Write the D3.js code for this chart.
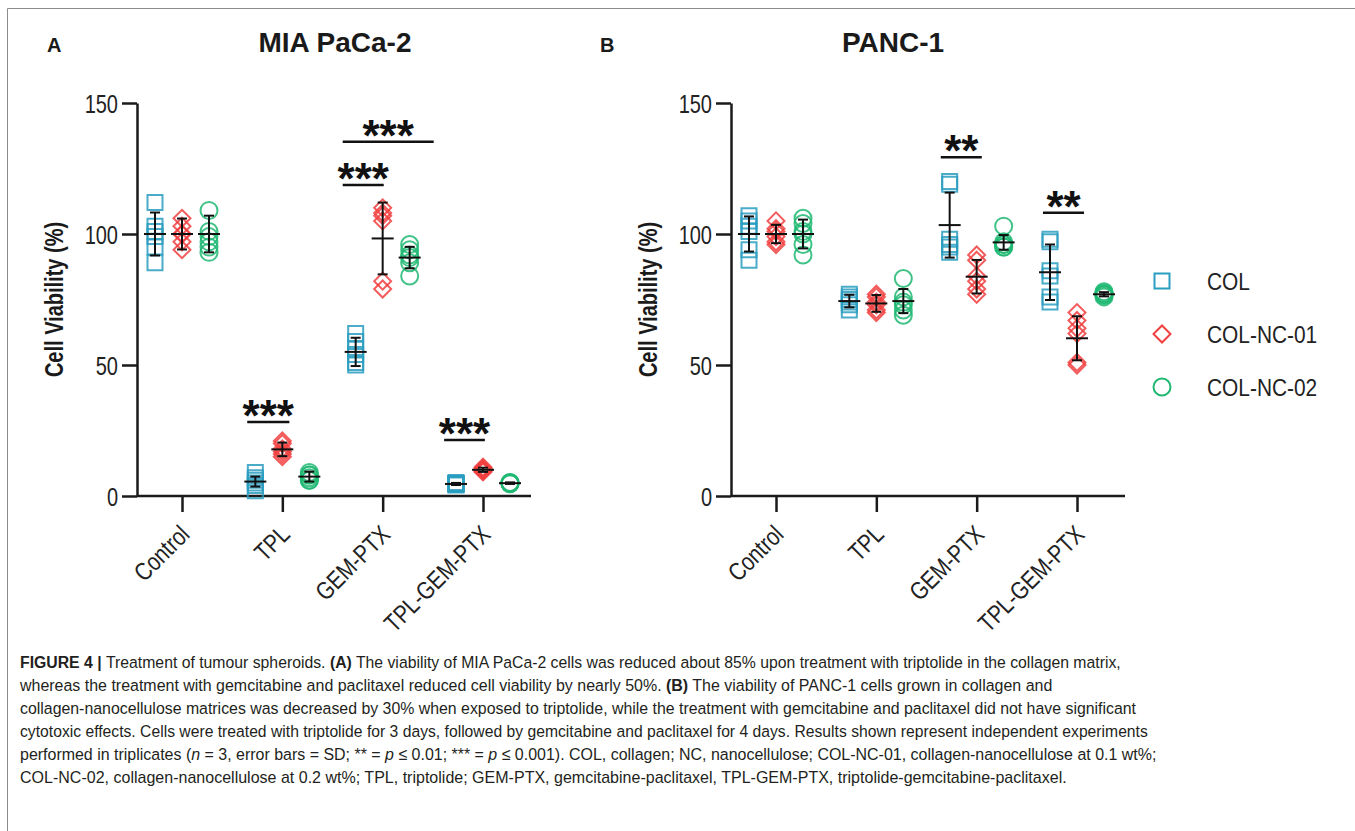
<!DOCTYPE html>
<html>
<head>
<meta charset="utf-8">
<script src="https://cdn.jsdelivr.net/npm/d3@7"></script>
<style>
  body { margin: 0; background: #fff; }
  svg text { font-family: 'Liberation Sans', Arial, sans-serif; fill: #1a1a1a; }
</style>
</head>
<body>
<div id="figure"></div>
<script>
// ---- data ----
const categories = ['Control', 'TPL', 'GEM-PTX', 'TPL-GEM-PTX'];
const matrices = ['COL', 'COL-NC-01', 'COL-NC-02'];
const yTicks = [0, 50, 100, 150];

// MIA PaCa-2, points per [category][matrix]
const miaPoints = [
  [[112, 103, 101, 99, 95, 89], [106, 103, 100, 97, 94, 100], [109, 101, 99, 97, 95, 93]],
  [[9, 7, 6, 5, 4, 2], [21, 20, 18, 17, 15, 16], [9, 8, 8, 6, 6, 7]],
  [[62, 59, 56, 54, 51, 50], [110, 108, 107, 105, 82, 79], [96, 94, 92, 91, 89, 84]],
  [[5.2, 4.8, 4.6, 4.4, 4.9, 4.2], [11, 10.5, 10, 9.5, 9.2, 10], [5.1, 4.9, 4.7, 5.0, 4.8, 5.2]]
];
const miaMeans = [[100, 100, 100], [5.5, 17.8, 7.4], [55, 98.3, 91], [4.6, 10, 4.9]];
const miaSD = [[8.2, 5.9, 7], [1.9, 2.6, 1.9], [5.4, 13.7, 4.1], [0.4, 0.8, 0.3]];
// significance bars: category, from/to matrix index, height, label
const miaSig = [
  {cat: 'TPL', from: -0.3, to: 1.26, y: 28.2, label: '***'},
  {cat: 'GEM-PTX', from: -0.48, to: 1.04, y: 118.7, label: '***'},
  {cat: 'GEM-PTX', from: -0.48, to: 2.89, y: 135.2, label: '***'},
  {cat: 'TPL-GEM-PTX', from: -0.44, to: 1.07, y: 21.4, label: '***'}
];

// PANC-1
const pancPoints = [
  [[107, 105, 103, 101, 94, 90], [105, 102, 101, 99, 97, 96], [106, 104, 101, 100, 96, 92]],
  [[77, 76, 75, 74, 73, 71], [77, 76, 74, 73, 71, 70], [83, 76, 74, 73, 71, 69]],
  [[120, 119, 98, 96, 95, 93], [92, 90, 84, 82, 79, 77], [103, 97, 96, 96, 95, 95]],
  [[98, 97, 86, 84, 76, 74], [70, 67, 64, 62, 51, 50], [78, 77.5, 77, 76.5, 76, 77]]
];
const pancMeans = [[100, 100, 100], [74.4, 73.5, 74.4], [103.4, 83.7, 96.8], [85.4, 60.2, 77]];
const pancSD = [[6.7, 3.5, 5.5], [2.4, 3.2, 4.6], [12.4, 6.4, 2.8], [10.6, 8.4, 0.8]];
const pancSig = [
  {cat: 'GEM-PTX', from: -0.33, to: 1.19, y: 129.3, label: '**'},
  {cat: 'TPL-GEM-PTX', from: -0.26, to: 1.26, y: 108.1, label: '**'}
];

const colors = ['#2a9ec0', '#f1403f', '#20b873'];

const captionLines = [
  [['FIGURE 4 | ', 'b'], ['Treatment of tumour spheroids. '], ['(A)', 'b'], [' The viability of MIA PaCa-2 cells was reduced about 85% upon treatment with triptolide in the collagen matrix,']],
  [['whereas the treatment with gemcitabine and paclitaxel reduced cell viability by nearly 50%. '], ['(B)', 'b'], [' The viability of PANC-1 cells grown in collagen and']],
  [['collagen-nanocellulose matrices was decreased by 30% when exposed to triptolide, while the treatment with gemcitabine and paclitaxel did not have significant']],
  [['cytotoxic effects. Cells were treated with triptolide for 3 days, followed by gemcitabine and paclitaxel for 4 days. Results shown represent independent experiments']],
  [['performed in triplicates ('], ['n', 'i'], [' = 3, error bars = SD; ** = '], ['p', 'i'], [' ≤ 0.01; *** = '], ['p', 'i'], [' ≤ 0.001). COL, collagen; NC, nanocellulose; COL-NC-01, collagen-nanocellulose at 0.1 wt%;']],
  [['COL-NC-02, collagen-nanocellulose at 0.2 wt%; TPL, triptolide; GEM-PTX, gemcitabine-paclitaxel, TPL-GEM-PTX, triptolide-gemcitabine-paclitaxel.']]
];

// no narrow font installed, so squeeze the glyphs instead
function narrow(sel, k) {
  sel.each(function() {
    const w = this.getComputedTextLength();
    d3.select(this).attr('textLength', w * k).attr('lengthAdjust', 'spacingAndGlyphs');
  });
}

class ViabilityPlot {

  constructor(_config, _data) {
    this.config = {
      parent: _config.parent,
      originX: _config.originX,
      originY: _config.originY || 103,
      width: _config.width || 394,
      height: _config.height || 393,
      title: _config.title,
      titleX: _config.titleX,
      panel: _config.panel,
      panelX: _config.panelX
    };
    this.data = _data;
    this.initVis();
  }

  initVis() {
    let vis = this;
    const c = vis.config;

    vis.xScale = d3.scalePoint().domain(categories).range([45, 346]);
    // position of each matrix inside a category
    vis.offset = d3.scaleLinear().domain([0, 2]).range([-27, 27]);
    vis.yScale = d3.scaleLinear().domain([0, 150]).range([c.height, 0]);

    vis.chart = c.parent.append('g')
        .attr('transform', `translate(${c.originX},${c.originY})`);

    // y axis
    vis.yAxis = d3.axisLeft(vis.yScale)
        .tickValues(yTicks)
        .tickSize(15)
        .tickSizeOuter(0)
        .tickPadding(4);
    vis.yAxisG = vis.chart.append('g').call(vis.yAxis);
    vis.yAxisG.selectAll('path, line').attr('stroke', '#1a1a1a').attr('stroke-width', 2.5);
    vis.yAxisG.selectAll('text')
        .style('font-size', '25px')
        .style('fill', '#222')
        .attr('dy', '0.36em')
        .call(narrow, 0.8);

    // x axis
    vis.xAxis = d3.axisBottom(vis.xScale).tickSize(16).tickFormat('');
    vis.xAxisG = vis.chart.append('g')
        .attr('transform', `translate(0,${c.height})`)
        .call(vis.xAxis)
        .call(g => g.select('.domain').remove());
    vis.xAxisG.selectAll('line').attr('stroke', '#1a1a1a').attr('stroke-width', 2.5);
    vis.xAxisG.append('line')
        .attr('x1', 0).attr('x2', c.width)
        .attr('stroke', '#1a1a1a').attr('stroke-width', 2.5);

    vis.chart.selectAll('.cat-label')
        .data(categories)
        .join('text')
        .attr('class', 'cat-label')
        .attr('text-anchor', 'end')
        .attr('transform', d => `translate(${vis.xScale(d) + 9},${c.height + 40}) rotate(-45)`)
        .style('font-size', '25px')
        .style('fill', '#222')
        .text(d => d)
        .call(narrow, 0.82);

    // titles
    vis.chart.append('text')
        .attr('text-anchor', 'middle')
        .attr('transform', `translate(-74,${c.height / 2}) rotate(-90)`)
        .style('font-size', '25px')
        .style('font-weight', 'bold')
        .text('Cell Viability (%)')
        .call(narrow, 0.8);

    vis.chart.append('text')
        .attr('x', c.titleX)
        .attr('y', -51)
        .attr('text-anchor', 'middle')
        .style('font-size', '28px')
        .style('font-weight', 'bold')
        .text(c.title);

    vis.chart.append('text')
        .attr('x', c.panelX)
        .attr('y', -51)
        .style('font-size', '20px')
        .style('font-weight', 'bold')
        .text(c.panel);

    vis.updateVis();
  }

  updateVis() {
    let vis = this;
    const d = vis.data;

    vis.points = [];
    vis.summary = [];
    categories.forEach((cat, i) => {
      matrices.forEach((m, j) => {
        d.points[i][j].forEach(v => vis.points.push({cat: cat, j: j, v: v}));
        vis.summary.push({cat: cat, j: j, mean: d.means[i][j], sd: d.sd[i][j]});
      });
    });

    vis.xPos = (cat, j) => vis.xScale(cat) + vis.offset(j);

    vis.renderVis();
  }

  renderVis() {
    let vis = this;

    vis.chart.selectAll('.point')
        .data(vis.points)
        .join('path')
        .attr('class', 'point')
        .attr('d', p => symbolFor(p.j))
        .attr('transform', p => `translate(${vis.xPos(p.cat, p.j)},${vis.yScale(p.v)})` + (p.j === 1 ? ' rotate(45)' : ''))
        .attr('fill', 'none')
        .attr('stroke', p => colors[p.j])
        .attr('stroke-opacity', 0.85)
        .attr('stroke-width', 2);

    // mean +/- SD
    const bars = vis.chart.selectAll('.bar')
        .data(vis.summary)
        .join('g')
        .attr('class', 'bar')
        .attr('transform', s => `translate(${vis.xPos(s.cat, s.j)},0)`)
        .attr('stroke', '#111')
        .attr('stroke-width', 2);

    bars.append('line')
        .attr('y1', s => vis.yScale(s.mean - s.sd))
        .attr('y2', s => vis.yScale(s.mean + s.sd));
    bars.append('line')
        .attr('x1', -11).attr('x2', 11)
        .attr('y1', s => vis.yScale(s.mean))
        .attr('y2', s => vis.yScale(s.mean));
    [-1, 1].forEach(k => {
      bars.append('line')
          .attr('x1', -5).attr('x2', 5)
          .attr('y1', s => vis.yScale(s.mean + k * s.sd))
          .attr('y2', s => vis.yScale(s.mean + k * s.sd));
    });

    // significance
    const sig = vis.chart.selectAll('.sig')
        .data(vis.data.sig)
        .join('g')
        .attr('class', 'sig');

    sig.append('line')
        .attr('x1', s => vis.xPos(s.cat, s.from))
        .attr('x2', s => vis.xPos(s.cat, s.to))
        .attr('y1', s => vis.yScale(s.y))
        .attr('y2', s => vis.yScale(s.y))
        .attr('stroke', '#111')
        .attr('stroke-width', 2.5);

    sig.append('text')
        .attr('x', s => (vis.xPos(s.cat, s.from) + vis.xPos(s.cat, s.to)) / 2)
        .attr('y', s => vis.yScale(s.y) + 9)
        .attr('text-anchor', 'middle')
        .style('font-size', '44px')
        .style('font-weight', 'bold')
        .style('fill', '#111')
        .text(s => s.label);
  }
}

function symbolFor(j) {
  if (j === 0) return d3.symbol(d3.symbolSquare, 225)();
  if (j === 1) return d3.symbol(d3.symbolSquare, 144)();
  return d3.symbol(d3.symbolCircle, 227)();
}

const svg = d3.select('#figure').append('svg')
    .attr('width', 1355)
    .attr('height', 831);

// frame of the figure
svg.append('path')
    .attr('d', 'M7.5,831 V8.5 H1355')
    .attr('fill', 'none')
    .attr('stroke', '#8c8c8c')
    .attr('stroke-width', 1);

new ViabilityPlot({parent: svg, originX: 137, title: 'MIA PaCa-2', titleX: 198, panel: 'A', panelX: -90},
    {points: miaPoints, means: miaMeans, sd: miaSD, sig: miaSig});
new ViabilityPlot({parent: svg, originX: 731, title: 'PANC-1', titleX: 162, panel: 'B', panelX: -131},
    {points: pancPoints, means: pancMeans, sd: pancSD, sig: pancSig});

// legend
const legend = svg.append('g').attr('transform', 'translate(1162,281)');
const items = legend.selectAll('g')
    .data(matrices)
    .join('g')
    .attr('transform', (m, j) => `translate(0,${j * 53})`);
items.append('path')
    .attr('d', (m, j) => symbolFor(j))
    .attr('transform', (m, j) => j === 1 ? 'rotate(45)' : null)
    .attr('fill', 'none')
    .attr('stroke', (m, j) => colors[j])
    .attr('stroke-width', 2);
items.append('text')
    .attr('x', 45)
    .attr('dy', '0.36em')
    .style('font-size', '24px')
    .style('fill', '#222')
    .text(m => m)
    .call(narrow, 0.87);

// caption
const captionWidths = [1102, 1033, 1117, 1128, 1137, 1047];
captionLines.forEach((line, k) => {
  const t = svg.append('text')
      .attr('transform', `translate(20,${668 + k * 23})`)
      .style('font-size', '17px')
      .style('fill', '#231f20');
  line.forEach(seg => {
    t.append('tspan')
        .style('font-weight', seg[1] === 'b' ? 'bold' : null)
        .style('font-style', seg[1] === 'i' ? 'italic' : null)
        .text(seg[0]);
  });
  const w = t.node().getComputedTextLength();
  t.attr('transform', `translate(20,${668 + k * 23}) scale(${captionWidths[k] / w},1)`);
});
</script>
</body>
</html>
